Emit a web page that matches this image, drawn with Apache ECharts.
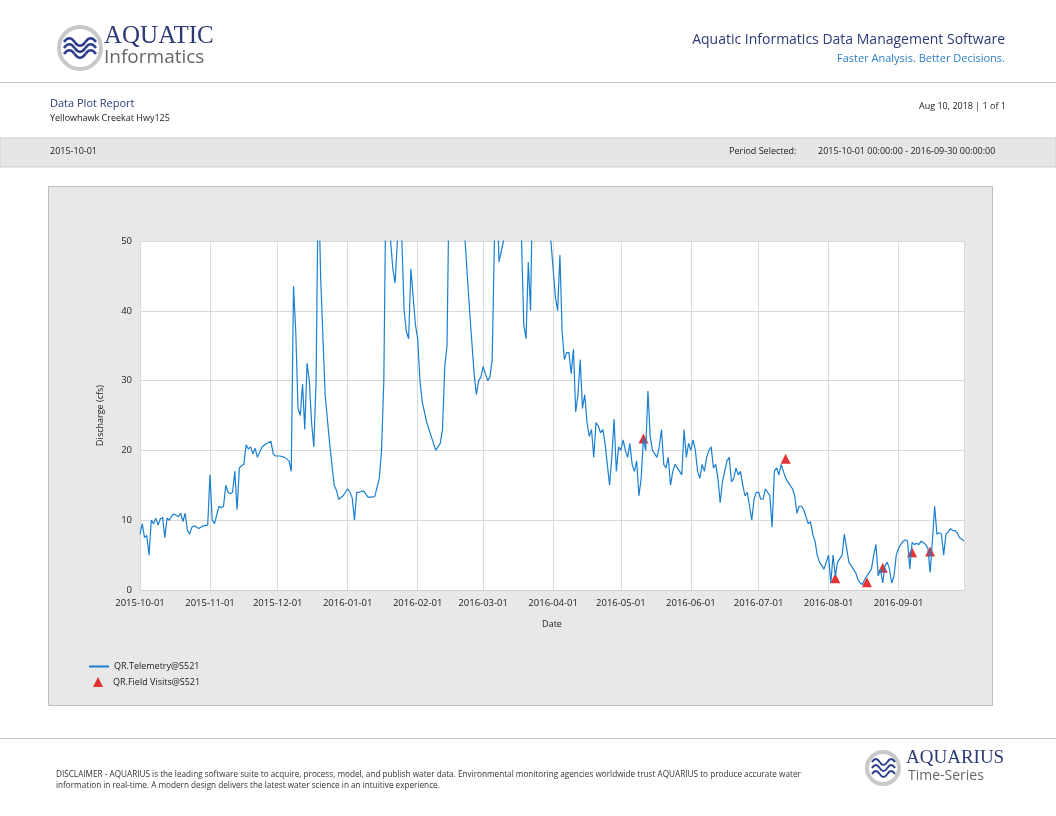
<!DOCTYPE html>
<html><head><meta charset="utf-8">
<script src="https://cdn.jsdelivr.net/npm/echarts@6/dist/echarts.min.js"></script>
<style>html,body{margin:0;padding:0;background:#fff}#c{width:1056px;height:816px}</style>
</head><body><div id="c"></div>
<script>
const telemetryDates = ["2015-10-01","2015-10-02","2015-10-03","2015-10-04","2015-10-05","2015-10-06","2015-10-07","2015-10-08","2015-10-09","2015-10-10","2015-10-11","2015-10-12","2015-10-13","2015-10-14","2015-10-15","2015-10-16","2015-10-17","2015-10-18","2015-10-19","2015-10-20","2015-10-21","2015-10-22","2015-10-23","2015-10-24","2015-10-25","2015-10-27","2015-10-29","2015-10-31",
"2015-11-01","2015-11-02","2015-11-03","2015-11-05","2015-11-06","2015-11-07","2015-11-08","2015-11-09","2015-11-10","2015-11-11","2015-11-12","2015-11-13","2015-11-14","2015-11-15","2015-11-16","2015-11-17","2015-11-18","2015-11-19","2015-11-20","2015-11-21","2015-11-22","2015-11-24","2015-11-26","2015-11-28","2015-11-29","2015-11-30",
"2015-12-02","2015-12-04","2015-12-06","2015-12-07","2015-12-08","2015-12-09","2015-12-10","2015-12-11","2015-12-12","2015-12-13","2015-12-14","2015-12-15","2015-12-16","2015-12-17","2015-12-18","2015-12-19","2015-12-20","2015-12-22","2015-12-24","2015-12-26","2015-12-27","2015-12-28","2015-12-30",
"2016-01-01","2016-01-02","2016-01-03","2016-01-04","2016-01-05","2016-01-06","2016-01-08","2016-01-10","2016-01-12","2016-01-13","2016-01-15","2016-01-16","2016-01-17","2016-01-18","2016-01-19","2016-01-20","2016-01-21","2016-01-22","2016-01-23","2016-01-24","2016-01-25","2016-01-26","2016-01-27","2016-01-28","2016-01-29","2016-01-30","2016-01-31",
"2016-02-01","2016-02-02","2016-02-03","2016-02-05","2016-02-07","2016-02-09","2016-02-10","2016-02-11","2016-02-12","2016-02-13","2016-02-14","2016-02-15","2016-02-17","2016-02-20","2016-02-22","2016-02-24","2016-02-26","2016-02-27","2016-02-28","2016-02-29",
"2016-03-01","2016-03-02","2016-03-03","2016-03-04","2016-03-05","2016-03-06","2016-03-07","2016-03-08","2016-03-10","2016-03-11","2016-03-14","2016-03-17","2016-03-18","2016-03-19","2016-03-20","2016-03-21","2016-03-22","2016-03-23","2016-03-26","2016-03-29","2016-03-31",
"2016-04-01","2016-04-02","2016-04-03","2016-04-04","2016-04-05","2016-04-06","2016-04-07","2016-04-08","2016-04-09","2016-04-10","2016-04-11","2016-04-12","2016-04-13","2016-04-14","2016-04-15","2016-04-16","2016-04-17","2016-04-18","2016-04-19","2016-04-20","2016-04-21","2016-04-22","2016-04-23","2016-04-24","2016-04-25","2016-04-26","2016-04-27","2016-04-28","2016-04-29","2016-04-30",
"2016-05-01","2016-05-02","2016-05-03","2016-05-04","2016-05-05","2016-05-06","2016-05-07","2016-05-08","2016-05-09","2016-05-10","2016-05-11","2016-05-12","2016-05-13","2016-05-14","2016-05-15","2016-05-16","2016-05-17","2016-05-18","2016-05-19","2016-05-20","2016-05-21","2016-05-22","2016-05-23","2016-05-24","2016-05-25","2016-05-26","2016-05-27","2016-05-28","2016-05-29","2016-05-30","2016-05-31",
"2016-06-01","2016-06-02","2016-06-03","2016-06-04","2016-06-05","2016-06-06","2016-06-07","2016-06-08","2016-06-09","2016-06-10","2016-06-11","2016-06-12","2016-06-13","2016-06-14","2016-06-15","2016-06-16","2016-06-17","2016-06-18","2016-06-19","2016-06-20","2016-06-21","2016-06-22","2016-06-23","2016-06-24","2016-06-25","2016-06-26","2016-06-27","2016-06-28","2016-06-29","2016-06-30",
"2016-07-01","2016-07-02","2016-07-03","2016-07-04","2016-07-05","2016-07-06","2016-07-07","2016-07-08","2016-07-09","2016-07-10","2016-07-11","2016-07-12","2016-07-13","2016-07-14","2016-07-15","2016-07-16","2016-07-17","2016-07-18","2016-07-19","2016-07-20","2016-07-21","2016-07-22","2016-07-23","2016-07-24","2016-07-25","2016-07-26","2016-07-27","2016-07-28","2016-07-29","2016-07-30","2016-07-31",
"2016-08-01","2016-08-02","2016-08-03","2016-08-04","2016-08-05","2016-08-06","2016-08-07","2016-08-08","2016-08-09","2016-08-10","2016-08-11","2016-08-12","2016-08-13","2016-08-14","2016-08-15","2016-08-16","2016-08-17","2016-08-18","2016-08-19","2016-08-20","2016-08-21","2016-08-22","2016-08-23","2016-08-24","2016-08-25","2016-08-26","2016-08-27","2016-08-28","2016-08-29","2016-08-30","2016-08-31",
"2016-09-01","2016-09-02","2016-09-03","2016-09-04","2016-09-05","2016-09-06","2016-09-07","2016-09-08","2016-09-09","2016-09-10","2016-09-11","2016-09-12","2016-09-13","2016-09-14","2016-09-15","2016-09-16","2016-09-17","2016-09-18","2016-09-19","2016-09-20","2016-09-21","2016-09-22","2016-09-23","2016-09-24","2016-09-25","2016-09-26","2016-09-27","2016-09-28","2016-09-29","2016-09-30"];
const telemetryValues = [8,9.5,7.5,7.8,5,10,9.5,10.3,9.3,10.2,10.4,7.5,10.3,10,10.6,10.9,10.7,10.5,11,9.8,11,8.5,8,9,9.2,8.8,9.2,9.3,
16.5,10,9.5,12,11.8,12,15,14,13.8,14,17,11.5,17.5,17.8,18,20.8,20.2,20.5,19.5,20.3,19,20.5,21,21.3,19.5,19.2,
19.2,19,18.5,17,43.5,37,26,25,29.5,23,32.5,30,24,20.5,30,60,45,28,21,15,14.3,13,13.5,
14.5,14,13.2,10,14,14,14.2,13.3,13.3,13.4,16,20,30,60,75,50,46,44,50,70,50,40,37,36,46,42,38,
36,30,27,24,22,20,20.5,21,23,32,35,60,80,65,50,40,31,28,30,30.5,
32,31,30,30.5,33,50,60,47,50,70,90,60,50,38,36,47,40,60,80,70,50,
46,42,40,48,37,33,34,34,31,34.5,25.5,28,33,26,28,24,22,23,19,24,23.5,22.5,23,21,18,15,19,24.5,17,20.5,
20,21.5,20,19,21,18,17,18.5,13.5,16,21.7,20,28.5,22,20,19.5,19,20.5,23,18,17.5,19,15,17,18,17.5,17,16.5,23,19,21,
20,21.5,20,17,16,18,17,19,20,20.5,17.5,18,16,12.5,15.5,17,18.5,19,15.5,16,17.5,16.5,17,15,13.5,14,12,10,13,14,
14,13,13,14.5,14,13.5,9,17,17.5,16.5,18,17,16,15.5,15,14.5,13.5,11,12,12,11.5,10.5,9.5,9.8,8,7,5,4,3.5,3,4,
5,1,5,2,4,4.5,5,8,6,4,3.5,3,2.5,1.5,1,0.8,1.5,2,2.5,3,5,6.5,2,3,1,3.5,4,3,1,2,5,
6,6.5,7,7.2,7,3,6.8,6.5,6.7,6.5,7,6.8,6.5,6,2.5,7,12,8,8.2,8,5,8,8.3,8.8,8.5,8.5,8.2,7.5,7.3,7];
const visitDates = ["2016-05-11","2016-07-13","2016-08-04","2016-08-18","2016-08-25","2016-09-07","2016-09-15"];
const visitValues = [21.7,18.8,1.7,1.1,3.2,5.4,5.5];
const yTicks = [0,10,20,30,40,50];

const chart = echarts.init(document.getElementById('c'), null, {renderer:'canvas'});
const F = '"Open Sans", "DejaVu Sans", sans-serif';
function waveLine(x0, y, w, amp, lw){
  const seg = w/3, out = [];
  for (let i=0;i<3;i++){
    const xa = x0+i*seg, xb = xa+seg, s = i%2===0 ? -1 : 1;
    out.push({type:'bezierCurve',shape:{x1:xa,y1:y,x2:xb,y2:y,cpx1:xa+seg/3,cpy1:y+s*amp,cpx2:xa+2*seg/3,cpy2:y+s*amp},style:{fill:null,stroke:'#2c3e8c',lineWidth:lw}});
  }
  return out;
}
const logoWaves = [].concat(waveLine(64,42,32,5,2.6),waveLine(64,48,32,5,2.6),waveLine(64,54,32,5,2.6),
  waveLine(872,762,23,4,2),waveLine(872,768,23,4,2),waveLine(872,774,23,4,2));
chart.setOption({
  backgroundColor:'#fff',
  animation:false,
  textStyle:{fontFamily:F},
  graphic:[
    {type:'rect',z:-10,shape:{x:48.5,y:186.5,width:944,height:519},style:{fill:'#e8e8e8',stroke:'#bdbdbd',lineWidth:1}},
    {type:'circle',shape:{cx:80,cy:48,r:21},style:{fill:'#fff',stroke:'#c8c8c8',lineWidth:4}},
    {type:'text',left:104,top:24,style:{text:'AQUATIC',font:'25px "Liberation Serif", serif',fill:'#2e3a78'}},
    {type:'text',left:104,top:48,style:{text:'Informatics',font:'19px '+F,fill:'#666'}},
    {type:'text',right:51,top:33,style:{text:'Aquatic Informatics Data Management Software',font:'14px '+F,fill:'#2e3a78'}},
    {type:'text',right:51,top:53,style:{text:'Faster Analysis. Better Decisions.',font:'11px '+F,fill:'#2a7fc8'}},
    {type:'rect',shape:{x:0,y:82,width:1056,height:1},style:{fill:'#c8c8c8'}},
    {type:'text',left:50,top:98,style:{text:'Data Plot Report',font:'11px '+F,fill:'#2e3a78'}},
    {type:'text',left:50,top:114,style:{text:'Yellowhawk Creekat Hwy125',font:'9px '+F,fill:'#222'}},
    {type:'text',right:50,top:102,style:{text:'Aug 10, 2018 | 1 of 1',font:'9px '+F,fill:'#222'}},
    {type:'rect',shape:{x:0,y:138,width:1056,height:29},style:{fill:'#e6e6e6',stroke:'#cfcfcf',lineWidth:1}},
    {type:'text',left:50,top:147,style:{text:'2015-10-01',font:'9px '+F,fill:'#222'}},
    {type:'text',left:729,top:147,style:{text:'Period Selected:',font:'9px '+F,fill:'#222'}},
    {type:'text',left:818,top:147,style:{text:'2015-10-01 00:00:00 - 2016-09-30 00:00:00',font:'9px '+F,fill:'#222'}},
    {type:'rect',shape:{x:0,y:738,width:1056,height:1},style:{fill:'#c8c8c8'}},
    {type:'text',left:56,top:769,style:{text:'DISCLAIMER - AQUARIUS is the leading software suite to acquire, process, model, and publish water data. Environmental monitoring agencies worldwide trust AQUARIUS to produce accurate water\ninformation in real-time. A modern design delivers the latest water science in an intuitive experience.',font:'8.2px '+F,fill:'#333',lineHeight:11}},
    {type:'circle',shape:{cx:883,cy:768,r:16},style:{fill:'#fff',stroke:'#c8c8c8',lineWidth:4}},
    {type:'text',left:906,top:749,style:{text:'AQUARIUS',font:'19px "Liberation Serif", serif',fill:'#2e3a78'}},
    {type:'text',left:908,top:769,style:{text:'Time-Series',font:'14px '+F,fill:'#666'}}
  ].concat(logoWaves),
  grid:{left:140,right:92,top:241,bottom:226,backgroundColor:'#fff',show:true,borderWidth:0},
  legend:[
    {left:84,top:657,orient:'vertical',itemWidth:20,itemHeight:2,icon:'rect',data:['QR.Telemetry@S521'],textStyle:{fontSize:9,color:'#222',fontFamily:F}},
    {left:88,top:672,orient:'vertical',itemWidth:10,itemHeight:10,icon:'triangle',data:['QR.Field Visits@S521'],textStyle:{fontSize:9,color:'#222',fontFamily:F,padding:[0,0,0,5]}}
  ],
  xAxis:{type:'time',min:'2015-10-01',max:'2016-09-30',name:'Date',nameLocation:'middle',nameGap:30,
    nameTextStyle:{fontSize:9,color:'#222'},splitNumber:12,
    axisLine:{show:true,lineStyle:{color:'#cfcfcf'}},axisTick:{show:false},
    axisLabel:{fontSize:9.5,color:'#222',formatter:v=>echarts.time.format(v,'{yyyy}-{MM}-{dd}',false),showMaxLabel:false},
    splitLine:{show:true,lineStyle:{color:'#d9d9d9'}}},
  yAxis:{type:'value',min:0,max:50,interval:10,name:'Discharge (cfs)',nameLocation:'middle',nameGap:35,
    nameTextStyle:{fontSize:9,color:'#222'},
    axisLine:{show:false},axisTick:{show:false},
    axisLabel:{fontSize:9.5,color:'#222',formatter:v=>yTicks.includes(v)?String(v):''},
    splitLine:{lineStyle:{color:'#d9d9d9'}}},
  series:[
    {name:'QR.Telemetry@S521',type:'line',showSymbol:false,clip:true,color:'#1a7fd0',lineStyle:{width:1.2},
      data:telemetryDates.map((d,i)=>[d,telemetryValues[i]])},
    {name:'QR.Field Visits@S521',type:'scatter',symbol:'triangle',symbolSize:10,color:'#e00000',
      data:visitDates.map((d,i)=>[d,visitValues[i]])}
  ]
});
</script></body></html>
